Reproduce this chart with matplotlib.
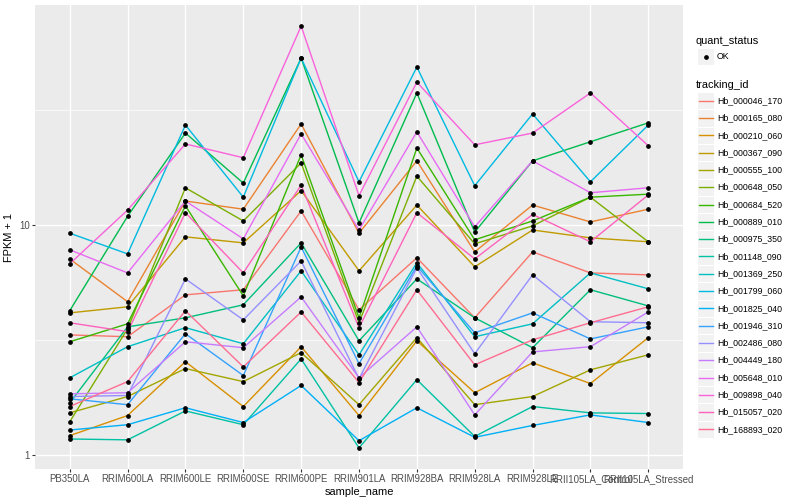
import matplotlib
matplotlib.use("Agg")
import matplotlib.pyplot as plt
from matplotlib.patches import Rectangle
from matplotlib.lines import Line2D
from matplotlib.ticker import FixedLocator, NullFormatter
import numpy as np

plt.rcParams['font.family'] = ['Liberation Sans', 'DejaVu Sans']

samples = ["PB350LA", "RRIM600LA", "RRIM600LE", "RRIM600SE", "RRIM600PE",
           "RRIM901LA", "RRIM928BA", "RRIM928LA", "RRIM928LE",
           "RRII105LA_Control", "RRII105LA_Stressed"]

tracking_ids = ["Hb_000046_170", "Hb_000165_080", "Hb_000210_060", "Hb_000367_090",
                "Hb_000555_100", "Hb_000648_050", "Hb_000684_520", "Hb_000889_010",
                "Hb_000975_350", "Hb_001148_090", "Hb_001369_250", "Hb_001799_060",
                "Hb_001825_040", "Hb_001946_310", "Hb_002486_080", "Hb_004449_180",
                "Hb_005648_010", "Hb_009898_040", "Hb_015057_020", "Hb_168893_020"]

# FPKM + 1 values per tracking_id (one value per sample)
hb_000046_170 = [3.32, 3.26, 4.96, 5.22, 11.5, 4.27, 7.19, 3.94, 7.63, 6.18, 6.06]
hb_000165_080 = [7.11, 4.63, 12.7, 11.7, 27.5, 9.2, 19.0, 7.63, 12.2, 10.3, 11.7]
hb_000210_060 = [1.21, 1.48, 2.54, 1.62, 2.95, 1.48, 3.13, 1.86, 2.51, 2.04, 3.23]
hb_000367_090 = [4.14, 4.40, 8.87, 8.35, 14.1, 6.31, 12.2, 6.57, 9.5, 8.78, 8.44]
hb_000555_100 = [1.52, 1.79, 2.37, 2.08, 2.78, 1.65, 3.23, 1.65, 1.79, 2.34, 2.72]
hb_000648_050 = [1.39, 3.53, 14.5, 10.4, 18.6, 3.75, 16.3, 8.27, 9.9, 13.2, 8.44]
hb_000684_520 = [3.10, 3.71, 12.1, 4.91, 20.2, 3.94, 21.6, 8.61, 10.4, 13.2, 13.6]
hb_000889_010 = [4.23, 10.9, 25.1, 15.2, 53.2, 10.2, 37.5, 9.3, 19.0, 23.0, 27.8]
hb_000975_350 = [1.68, 3.60, 3.94, 4.49, 8.35, 3.13, 5.82, 3.94, 2.92, 5.22, 4.44]
hb_001148_090 = [1.17, 1.16, 1.55, 1.35, 2.61, 1.07, 2.12, 1.20, 1.62, 1.52, 1.51]
hb_001369_250 = [2.16, 2.95, 3.57, 3.04, 6.31, 2.72, 6.84, 3.26, 3.71, 6.18, 5.27]
hb_001799_060 = [9.2, 7.48, 27.2, 13.2, 53.2, 15.4, 48.6, 14.8, 30.4, 15.4, 27.2]
hb_001825_040 = [1.28, 1.35, 1.60, 1.38, 2.00, 1.15, 1.60, 1.19, 1.34, 1.49, 1.38]
hb_001946_310 = [1.75, 1.65, 3.36, 2.21, 8.02, 2.49, 6.63, 3.39, 4.14, 3.19, 3.60]
hb_002486_080 = [1.79, 1.81, 5.82, 3.86, 6.97, 2.14, 6.50, 2.75, 6.06, 3.79, 3.75]
hb_004449_180 = [1.84, 1.86, 3.10, 2.92, 4.86, 2.16, 3.60, 1.49, 2.80, 2.95, 4.18]
hb_005648_010 = [7.79, 6.18, 12.7, 8.69, 24.9, 9.5, 25.4, 9.8, 19.0, 13.8, 14.5]
hb_009898_040 = [6.77, 11.6, 22.5, 19.6, 73.3, 13.4, 41.8, 22.3, 25.1, 37.5, 22.1]
hb_015057_020 = [3.75, 3.43, 11.3, 6.18, 14.9, 3.57, 11.3, 7.11, 11.1, 8.44, 13.5]
hb_168893_020 = [1.62, 2.08, 4.23, 2.41, 4.18, 2.06, 5.22, 2.46, 3.16, 3.75, 4.40]

series = [hb_000046_170, hb_000165_080, hb_000210_060, hb_000367_090, hb_000555_100,
          hb_000648_050, hb_000684_520, hb_000889_010, hb_000975_350, hb_001148_090,
          hb_001369_250, hb_001799_060, hb_001825_040, hb_001946_310, hb_002486_080,
          hb_004449_180, hb_005648_010, hb_009898_040, hb_015057_020, hb_168893_020]

colors = ["#F8766D", "#EA8331", "#D89000", "#C09B00", "#A3A500", "#7CAE00", "#39B600",
          "#00BB4E", "#00BF7D", "#00C1A3", "#00BFC4", "#00BAE0", "#00B0F6", "#35A2FF",
          "#9590FF", "#C77CFF", "#E76BF3", "#FA62DB", "#FF62BC", "#FF6C91"]

W, H = 800, 500
fig = plt.figure(figsize=(8, 5), dpi=100)
fig.patch.set_facecolor("white")

pl, pr, pt, pb = 35, 683, 5, 469
ax = fig.add_axes([pl / W, 1 - pb / H, (pr - pl) / W, (pb - pt) / H])
ax.set_facecolor("#EBEBEB")

x = np.arange(len(samples))
for vals, c in zip(series, colors):
    ax.plot(x, vals, color=c, lw=1.0, zorder=2, solid_capstyle="butt")
for vals in series:
    ax.plot(x, vals, linestyle="none", marker="o", ms=2.4, color="black", zorder=3)

ax.set_yscale("log")
allv = np.log10(np.concatenate([np.asarray(s) for s in series]))
lo, hi = allv.min(), allv.max()
pad = 0.05 * (hi - lo)
ax.set_ylim(10 ** (lo - pad), 10 ** (hi + pad))
ax.set_xlim(-0.6, len(samples) - 1 + 0.6)

ax.yaxis.set_major_locator(FixedLocator([1, 10, 100]))
ax.set_yticklabels(["1", "10", "100"])
ax.yaxis.set_minor_locator(FixedLocator([10 ** 0.5, 10 ** 1.5]))
ax.yaxis.set_minor_formatter(NullFormatter())
ax.set_xticks(x)
ax.set_xticklabels(samples)

ax.grid(which="major", color="white", lw=1.0, zorder=0)
ax.grid(which="minor", axis="y", color="white", lw=0.5, zorder=0)
ax.set_axisbelow(True)
for s in ax.spines.values():
    s.set_visible(False)
ax.tick_params(which="major", length=2.0, width=0.8, color="#333333",
               labelsize=6.9, labelcolor="#4D4D4D", pad=1.6)
ax.tick_params(which="minor", length=0)

ax.set_xlabel("sample_name", fontsize=7.9, labelpad=2)
ax.set_ylabel("FPKM + 1", fontsize=7.9, labelpad=4)

# legends
def fx(px):
    return px / W

def fy(py):
    return 1 - py / H

fig.text(fx(696), fy(40.5), "quant_status", fontsize=7.9, va="center", ha="left")
ks = 17.3
kx = 697
fig.patches.append(Rectangle((fx(kx), fy(56.7 + ks / 2)), ks / W, ks / H,
                             transform=fig.transFigure, facecolor="#F2F2F2",
                             edgecolor="white", lw=0.8))
fig.lines.append(Line2D([fx(kx + ks / 2)], [fy(56.7)], transform=fig.transFigure,
                        marker="o", ms=2.4, color="black", linestyle="none"))
fig.text(fx(717), fy(56.7), "OK", fontsize=6.35, va="center", ha="left")

fig.text(fx(696), fy(84.5), "tracking_id", fontsize=7.9, va="center", ha="left")
for i, (tid, c) in enumerate(zip(tracking_ids, colors)):
    cy = 100.7 + ks * i
    fig.patches.append(Rectangle((fx(kx), fy(cy + ks / 2)), ks / W, ks / H,
                                 transform=fig.transFigure, facecolor="#F2F2F2",
                                 edgecolor="white", lw=0.8))
    fig.lines.append(Line2D([fx(kx + 1.7), fx(kx + ks - 1.7)], [fy(cy), fy(cy)],
                            transform=fig.transFigure, color=c, lw=1.0))
    fig.text(fx(717), fy(cy), tid, fontsize=6.35, va="center", ha="left")

fig.savefig("out.png", dpi=100, facecolor="white")
